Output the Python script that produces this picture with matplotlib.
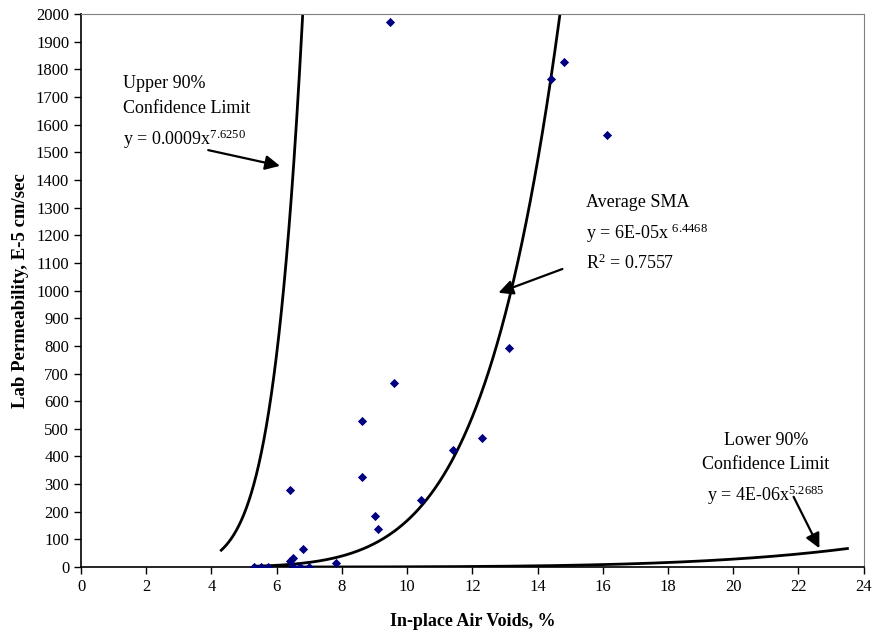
import numpy as np
import matplotlib
matplotlib.use("Agg")
from matplotlib import pyplot as plt

plt.rcParams['font.family'] = ['Liberation Serif', 'DejaVu Serif']
plt.rcParams['mathtext.fontset'] = 'custom'
plt.rcParams['mathtext.rm'] = 'Liberation Serif'
plt.rcParams['mathtext.it'] = 'Liberation Serif:italic'

# izmjereni podaci (in-place air voids %, lab permeability E-5 cm/sec)
voids = [9.48, 14.82, 14.42, 16.12, 13.13, 9.61, 8.61, 12.31, 11.41, 8.61,
         6.41, 10.41, 9.01, 9.11, 6.81, 6.51, 6.41, 7.81,
         5.31, 5.51, 5.72, 6.50, 6.71, 7.00]
perm = [1971, 1826, 1765, 1562, 794, 667, 530, 465, 423, 325,
        277, 241, 183, 137, 65, 34, 23, 14,
        0, 0, 0, 0, 0, 0]

# power trendline koeficijenti: y = a * x^b, raspon x
upper_a, upper_b, upper_x = 0.0009, 7.6250, (4.3, 6.85)
avg_a, avg_b, avg_x = 6e-05, 6.4468, (5.3, 14.75)
lower_a, lower_b, lower_x = 4e-06, 5.2685, (5.3, 23.5)

fig = plt.figure(figsize=(8.75, 6.4), dpi=100)
ax = fig.add_axes([0.0926, 0.114, 0.8945, 0.864])

for a, b, (x0, x1) in [(upper_a, upper_b, upper_x), (avg_a, avg_b, avg_x),
                       (lower_a, lower_b, lower_x)]:
    xs = np.linspace(x0, x1, 300)
    ax.plot(xs, a * xs ** b, color='black', lw=2.0, zorder=2)

ax.scatter(voids, perm, marker='D', s=22, color='#000080', zorder=3,
           linewidths=0)

ax.set_xlim(0, 24)
ax.set_ylim(0, 2000)
ax.set_xticks(np.arange(0, 25, 2))
ax.set_yticks(np.arange(0, 2001, 100))
ax.tick_params(direction='out', length=5, width=1, labelsize=12, colors='black')
ax.spines['top'].set_color('#808080')
ax.spines['right'].set_color('#808080')
ax.spines['left'].set_linewidth(1.2)
ax.spines['bottom'].set_linewidth(1.2)

ax.set_xlabel('In-place Air Voids, %', fontsize=13, fontweight='bold', labelpad=13)
ax.set_ylabel('Lab Permeability, E-5 cm/sec', fontsize=13.5, fontweight='bold', labelpad=5)

arrow = dict(arrowstyle='-|>', mutation_scale=22, color='black', lw=1.6,
             shrinkA=0, shrinkB=0)

ax.text(1.29, 1780, 'Upper 90%\nConfidence Limit\ny = 0.0009x$^{7.6250}$',
        fontsize=13, va='top', ha='left', linespacing=1.6)
ax.annotate('', xy=(6.10, 1451), xytext=(3.90, 1508), arrowprops=arrow)

ax.text(15.49, 1350, 'Average SMA\ny = 6E-05x $^{6.4468}$\nR$^{2}$ = 0.7557',
        fontsize=13, va='top', ha='left', linespacing=1.6)
ax.annotate('', xy=(12.80, 992), xytext=(14.76, 1078), arrowprops=arrow)

ax.text(21.0, 490, 'Lower 90%\nConfidence Limit\ny = 4E-06x$^{5.2685}$',
        fontsize=13, va='top', ha='center', linespacing=1.6)
ax.annotate('', xy=(22.64, 68), xytext=(21.85, 254), arrowprops=arrow)

fig.savefig('out.png', dpi=100)
